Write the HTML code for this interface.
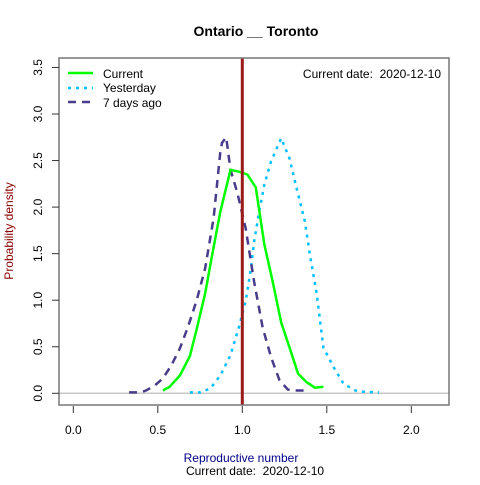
<!DOCTYPE html>
<html><head><meta charset="utf-8"><style>
body{margin:0;background:#fff}
svg text{font-family:"Liberation Sans",Arial,sans-serif;white-space:pre}
</style></head><body>
<svg id="chart" width="480" height="480" viewBox="0 0 480 480" xmlns="http://www.w3.org/2000/svg">
<rect width="480" height="480" fill="#fff"/>
<text x="256" y="36" font-size="14" font-weight="bold" text-anchor="middle">Ontario __ Toronto</text>
<g id="plot"></g>
<text x="241" y="462" font-size="12" text-anchor="middle" fill="#00008b">Reproductive number</text>
<text x="255" y="475" font-size="12" text-anchor="middle">Current date:  2020-12-10</text>
<text transform="translate(13,231) rotate(-90)" font-size="12" text-anchor="middle" fill="#8b0000">Probability density</text>
<text x="441" y="78" font-size="12" text-anchor="end">Current date:  2020-12-10</text>
<g>
<line x1="68" y1="73" x2="93" y2="73" stroke="#00ff00" stroke-width="2.5"/>
<text x="103" y="78" font-size="12">Current</text>
<line x1="68" y1="88" x2="93" y2="88" stroke="#00bfff" stroke-width="2.5" stroke-dasharray="3,5"/>
<text x="103" y="92" font-size="12">Yesterday</text>
<line x1="68" y1="102" x2="93" y2="102" stroke="#483d8b" stroke-width="2.5" stroke-dasharray="8,6"/>
<text x="103" y="107" font-size="12">7 days ago</text>
</g>
</svg>
<script>
const xTicks=[0.0,0.5,1.0,1.5,2.0];
const yTicks=[0.0,0.5,1.0,1.5,2.0,2.5,3.0,3.5];
const currentX=[0.53,0.57,0.63,0.69,0.73,0.78,0.82,0.87,0.93,0.98,1.03,1.08,1.13,1.18,1.23,1.28,1.33,1.38,1.43,1.48];
const currentY=[0.03,0.07,0.19,0.40,0.69,1.07,1.47,1.95,2.40,2.38,2.35,2.21,1.60,1.20,0.76,0.49,0.21,0.12,0.06,0.07];
const yesterdayX=[0.69,0.75,0.81,0.87,0.93,0.98,1.02,1.05,1.07,1.10,1.13,1.17,1.23,1.28,1.32,1.37,1.40,1.44,1.48,1.54,1.60,1.68,1.81];
const yesterdayY=[0.01,0.01,0.05,0.19,0.41,0.71,0.99,1.33,1.63,1.95,2.24,2.49,2.74,2.52,2.21,1.85,1.49,1.07,0.49,0.28,0.10,0.02,0.01];
const weekX=[0.33,0.40,0.43,0.48,0.53,0.58,0.63,0.68,0.73,0.78,0.83,0.87,0.88,0.905,0.93,0.97,1.02,1.07,1.12,1.17,1.22,1.27,1.32,1.37];
const weekY=[0.01,0.01,0.03,0.08,0.16,0.30,0.48,0.72,1.00,1.34,1.88,2.59,2.69,2.75,2.40,2.16,1.77,1.20,0.71,0.39,0.14,0.04,0.03,0.03];
const refLine=1.0;
const NS="http://www.w3.org/2000/svg";
const L=59,R=449,T=58,B=405;
function sx(v){return 73.3+v*169;}
function sy(v){return 393.3-v*93.1;}
const g=document.getElementById('plot');
function mk(tag,attrs){const e=document.createElementNS(NS,tag);for(const k in attrs)e.setAttribute(k,attrs[k]);g.appendChild(e);return e;}
let e=mk('line',{x1:L,x2:R,y1:sy(0),y2:sy(0),stroke:'#c8c8c8','stroke-width':1.5});


function series(xs,ys,color,dash,name){
  const pts=xs.map((x,i)=>sx(x).toFixed(1)+','+sy(ys[i]).toFixed(1)).join(' ');
  const p=mk('polyline',{points:pts,fill:'none',stroke:color,'stroke-width':2.5});
  if(dash)p.setAttribute('stroke-dasharray',dash);
  
  
}
series(yesterdayX,yesterdayY,'#00bfff','3,5','series-yesterday');
series(weekX,weekY,'#483d8b','8,6','series-7-days-ago');
series(currentX,currentY,'#00ff00',null,'series-current');
e=mk('line',{x1:sx(refLine),x2:sx(refLine),y1:T,y2:B,stroke:'#9b1a1a','stroke-width':3});


e=mk('rect',{x:L,y:T,width:R-L,height:B-T,fill:'none',stroke:'#777','stroke-width':1.5});


xTicks.forEach(v=>{
  const t=mk('line',{x1:sx(v),x2:sx(v),y1:B+1,y2:B+8,stroke:'#333'});
  
  
  const tx=mk('text',{x:sx(v),y:434,'font-size':12,'text-anchor':'middle'});
  tx.textContent=v.toFixed(1);
  
  
});
yTicks.forEach(v=>{
  const t=mk('line',{x1:L-7,x2:L,y1:sy(v),y2:sy(v),stroke:'#333'});
  
  
  const tx=mk('text',{transform:`translate(42,${sy(v)}) rotate(-90)`,'font-size':12,'text-anchor':'middle'});
  tx.textContent=v.toFixed(1);
  
  
});
</script>
</body></html>
